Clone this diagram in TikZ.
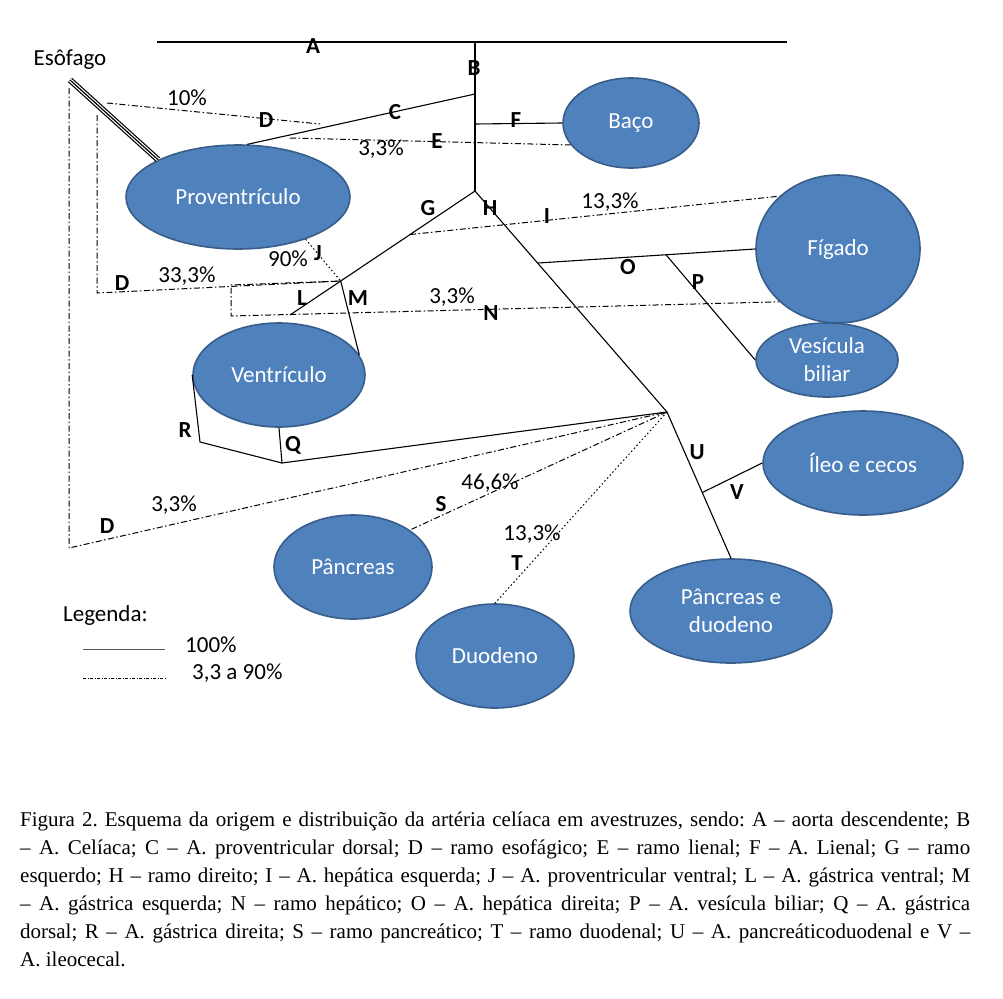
\documentclass[tikz,border=0pt]{standalone}
\usepackage{fontspec}
\setmainfont{Carlito}
\newfontfamily\capfont{Liberation Serif}
\usetikzlibrary{shapes.geometric,calc}
\definecolor{orgfill}{HTML}{4F81BD}
\definecolor{orgline}{HTML}{385D8A}
\newcommand{\capline}[1]{\hbox to 950pt{#1}}

\begin{document}
\begin{tikzpicture}[x=1pt,y=-1pt,
    organ/.style={ellipse,draw=orgline,line width=1.6pt,fill=orgfill,text=white,inner sep=0pt,align=center,font=\fontsize{23}{28}\selectfont},
    artery/.style={line width=1.1pt},
    ramo/.style={line width=1pt,dash pattern=on 6pt off 2.5pt on 1.5pt off 2.5pt},
    pontos/.style={line width=1pt,dash pattern=on 1.5pt off 2.5pt},
    letra/.style={font=\fontsize{23}{28}\selectfont\bfseries,inner sep=0pt},
    pct/.style={font=\fontsize{23}{28}\selectfont,inner sep=0pt}]
\useasboundingbox (0,0) rectangle (1003,998);

% orgaos
\node[organ,minimum width=224pt,minimum height=104pt] (prov) at (238,197) {Proventrículo};
\node[organ,minimum width=136pt,minimum height=90pt] (baco) at (631,123) {Baço};
\node[organ,minimum width=164pt,minimum height=148pt] (figado) at (838,249) {Fígado};
\node[organ,minimum width=142pt,minimum height=74pt] (vesicula) at (827,360) {Vesícula\\biliar};
\node[organ,minimum width=172pt,minimum height=104pt] (ventriculo) at (279,375) {Ventrículo};
\node[organ,minimum width=200pt,minimum height=104pt] (ileo) at (863,463) {Íleo e cecos};
\node[organ,minimum width=158pt,minimum height=104pt] (pancreas) at (353,567) {Pâncreas};
\node[organ,minimum width=158pt,minimum height=104pt] (duodeno) at (495,656) {Duodeno};
\node[organ,minimum width=202pt,minimum height=104pt] (pancduo) at (731,611) {Pâncreas e\\duodeno};

% pontos de ramificacao
\coordinate (aortaL) at (157,42);
\coordinate (aortaR) at (787,42);
\coordinate (celiaca) at (475,42);
\coordinate (bC) at (475,94);
\coordinate (bF) at (475,124);
\coordinate (bif) at (475,191);
\coordinate (K) at (667,412);
\coordinate (lFim) at (290,315);
\coordinate (jx) at ($(bif)!0.726!(lFim)$);
\coordinate (gI) at ($(bif)!0.351!(lFim)$);
\coordinate (oIni) at ($(bif)!0.326!(K)$);
\coordinate (pIni) at ($(oIni)!0.59!(figado.west)$);
\coordinate (vIni) at ($(K)!0.551!(pancduo.north)$);
\coordinate (qCanto) at (282,463);
\coordinate (rCanto) at (200,442);
\coordinate (esoA) at (70,80);
\coordinate (esoD) at (107,103);
\coordinate (dFim) at (320,124);
\coordinate (eIni) at (290,138);
\coordinate (dIntA) at (97,115);
\coordinate (dIntB) at (97,293);
\coordinate (dExtA) at (69,88);
\coordinate (dExtB) at (69,548);
\coordinate (nA) at (231,285);
\coordinate (nB) at (231,316);

% esofago
\foreach \w/\c in {6/black,3.6/white,1.2/black}
    \draw[line width=\w pt,\c] (esoA) -- (prov.155);

% arterias (100%)
\draw[artery] (aortaL) -- (aortaR);
\draw[artery] (celiaca) -- (bif);
\draw[artery] (bC) -- (prov.80);
\draw[artery] (bF) -- (baco.west);
\draw[artery] (bif) -- (lFim);
\draw[artery] (bif) -- (K);
\draw[artery] (jx) -- (ventriculo.14);
\draw[artery] (oIni) -- (figado.west);
\draw[artery] (pIni) -- (vesicula.west);
\draw[artery] (K) -- (qCanto) -- (ventriculo.south);
\draw[artery] (qCanto) -- (rCanto) -- (ventriculo.west);
\draw[artery] (K) -- (pancduo.north);
\draw[artery] (vIni) -- (ileo.west);

% ramos (3,3 a 90%)
\draw[ramo] (esoD) -- (dFim);
\draw[ramo] (eIni) -- (baco.200);
\draw[ramo] (dIntA) -- (dIntB) -- (jx);
\draw[ramo] (dExtA) -- (dExtB) -- (K);
\draw[ramo] (jx) -- (nA) -- (nB) -- (figado.222);
\draw[ramo] (gI) -- (figado.138);
\draw[ramo] (K) -- (pancreas.33);
\draw[pontos] (prov.-32) -- (jx);
\draw[pontos] (K) -- (duodeno.north);

% rotulos
\node[pct] (esofago) at (70,60) {Esôfago};
\node[letra] (lA) at (313,46) {A};
\node[letra] (lB) at (474,68) {B};
\node[letra] (lC) at (395,112) {C};
\node[pct] (p10) at (187,98) {10\%};
\node[letra] (lD1) at (266,120) {D};
\node[pct] (p33a) at (381,149) {3,3\%};
\node[letra] (lE) at (437,141) {E};
\node[letra] (lF) at (516,120) {F};
\node[letra] (lG) at (428,208) {G};
\node[letra] (lH) at (490,208) {H};
\node[letra] (lI) at (547,216) {I};
\node[pct] (p133a) at (610,202) {13,3\%};
\node[pct] (p90) at (288,259) {90\%};
\node[letra] (lJ) at (318,253) {J};
\node[letra] (lD2) at (122,283) {D};
\node[pct] (p333) at (187,276) {33,3\%};
\node[letra] (lL) at (302,298) {L};
\node[letra] (lM) at (358,298) {M};
\node[pct] (p33b) at (452,297) {3,3\%};
\node[letra] (lN) at (491,313) {N};
\node[letra] (lO) at (628,267) {O};
\node[letra] (lP) at (698,282) {P};
\node[letra] (lR) at (185,430) {R};
\node[letra] (lQ) at (293,445) {Q};
\node[letra] (lU) at (697,452) {U};
\node[letra] (lV) at (737,492) {V};
\node[letra] (lD3) at (107,526) {D};
\node[pct] (p33c) at (174,505) {3,3\%};
\node[letra] (lS) at (441,504) {S};
\node[pct] (p466) at (490,483) {46,6\%};
\node[pct] (p133b) at (532,534) {13,3\%};
\node[letra] (lT) at (517,563) {T};

% legenda
\node[pct,anchor=west] (legenda) at (63,615) {Legenda:};
\coordinate (leg1a) at (83,649);
\coordinate (leg1b) at (165,649);
\coordinate (leg2a) at (83,678);
\coordinate (leg2b) at (165,678);
\draw[line width=1pt,black!65] (leg1a) -- (leg1b);
\draw[line width=0.7pt,dash pattern=on 3pt off 1.5pt on 1pt off 1.5pt] (leg2a) -- (leg2b);
\node[pct,anchor=west] (leg100) at (185,645) {100\%};
\node[pct,anchor=west] (leg90) at (192,673) {3,3 a 90\%};

% texto da figura
\node[anchor=north west,inner sep=0pt] (texto) at (20,812) {\vbox{\capfont\fontsize{21}{28}\selectfont\frenchspacing
    \capline{Figura 2. Esquema da origem e distribuição da artéria celíaca em avestruzes, sendo: A – aorta descendente; B}
    \capline{– A. Celíaca; C – A. proventricular dorsal; D – ramo esofágico; E – ramo lienal; F – A. Lienal; G – ramo}
    \capline{esquerdo; H – ramo direito; I – A. hepática esquerda; J – A. proventricular ventral; L – A. gástrica ventral; M}
    \capline{– A. gástrica esquerda; N – ramo hepático; O – A. hepática direita; P – A. vesícula biliar; Q – A. gástrica}
    \capline{dorsal; R – A. gástrica direita; S – ramo pancreático; T – ramo duodenal; U – A. pancreáticoduodenal e V –}
    \hbox{A. ileocecal.}}};
\end{tikzpicture}
\end{document}
